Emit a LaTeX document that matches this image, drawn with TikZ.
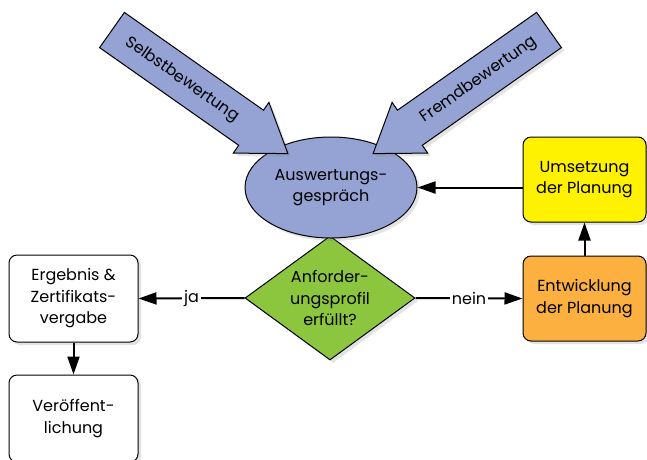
\documentclass[tikz,border=0pt]{standalone}
\usepackage{fontspec}
\setmainfont{Poppins}
\usetikzlibrary{shapes.geometric,arrows.meta,shadows}
\definecolor{bluef}{HTML}{94A3D3}
\definecolor{greenf}{HTML}{8CC63E}
\definecolor{yellowf}{HTML}{FFF200}
\definecolor{orangef}{HTML}{FBB040}
\begin{document}
\begin{tikzpicture}[x=1pt,y=-1pt,
  font=\fontsize{16}{21.5}\selectfont,
  sh/.style={drop shadow={opacity=0.22,shadow xshift=3pt,shadow yshift=-3pt}},
  box/.style={draw=black,line width=1pt,rounded corners=8pt,minimum width=129pt,minimum height=87pt,align=center,inner sep=0pt,sh},
  bigarrow/.style={draw=black,line width=1pt,fill=bluef,line join=miter,sh},
  arr/.style={line width=2pt,-{Triangle[length=18pt,width=12pt]}},
  lbl/.style={fill=white,inner sep=2pt}]
\clip (0,0) rectangle (647,459);
\fill[white] (0,0) rectangle (647,459);
% decision diamond
\node[diamond,draw=black,line width=1pt,fill=greenf,minimum width=170pt,minimum height=124pt,inner sep=0pt,aspect=1.37,align=center,sh] (dia) at (330,298) {Anforder-\\ungsprofil\\erfüllt?};
% ellipse
\node[ellipse,draw=black,line width=1pt,fill=bluef,minimum width=172pt,minimum height=101pt,inner sep=0pt,align=center,sh] (ell) at (331,187.5) {Auswertungs-\\gespräch};
% big arrows
\draw[bigarrow] (124.4,12.4) -- (263.5,110.2) -- (268.9,102.4) -- (287.9,153.6) -- (233.3,153.1) -- (238.7,145.3) -- (99.6,47.6) -- cycle;
\draw[bigarrow] (536.6,12.4) -- (397.5,110.2) -- (392.1,102.4) -- (373.1,153.6) -- (427.7,153.1) -- (422.3,145.3) -- (561.4,47.6) -- cycle;
\node[rotate=-35.1] (selbst) at (182,80) {Selbstbewertung};
\node[rotate=35.1] (fremd) at (479,80) {Fremdbewertung};
% boxes
\node[box,fill=white] (erg) at (73.5,298.5) {Ergebnis \&\\Zertifikats-\\vergabe};
\node[box,fill=white] (ver) at (73.5,418.5) {Veröffent-\\lichung};
\node[box,fill=yellowf,minimum width=123pt,minimum height=85pt] (ums) at (584.5,179.5) {Umsetzung\\der Planung};
\node[box,fill=orangef,minimum width=123pt,minimum height=85pt] (ent) at (584.5,298.5) {Entwicklung\\der Planung};
% connectors
\draw[arr] (dia.west) -- node[lbl] (ja) {ja} (erg.east);
\draw[arr] (dia.east) -- node[lbl] (nein) {nein} (ent.west);
\draw[arr] (erg.south) -- (ver.north);
\draw[arr] (ent.north) -- (ums.south);
\draw[arr] (ums.west |- ell.east) -- (ell.east);
\end{tikzpicture}
\end{document}
